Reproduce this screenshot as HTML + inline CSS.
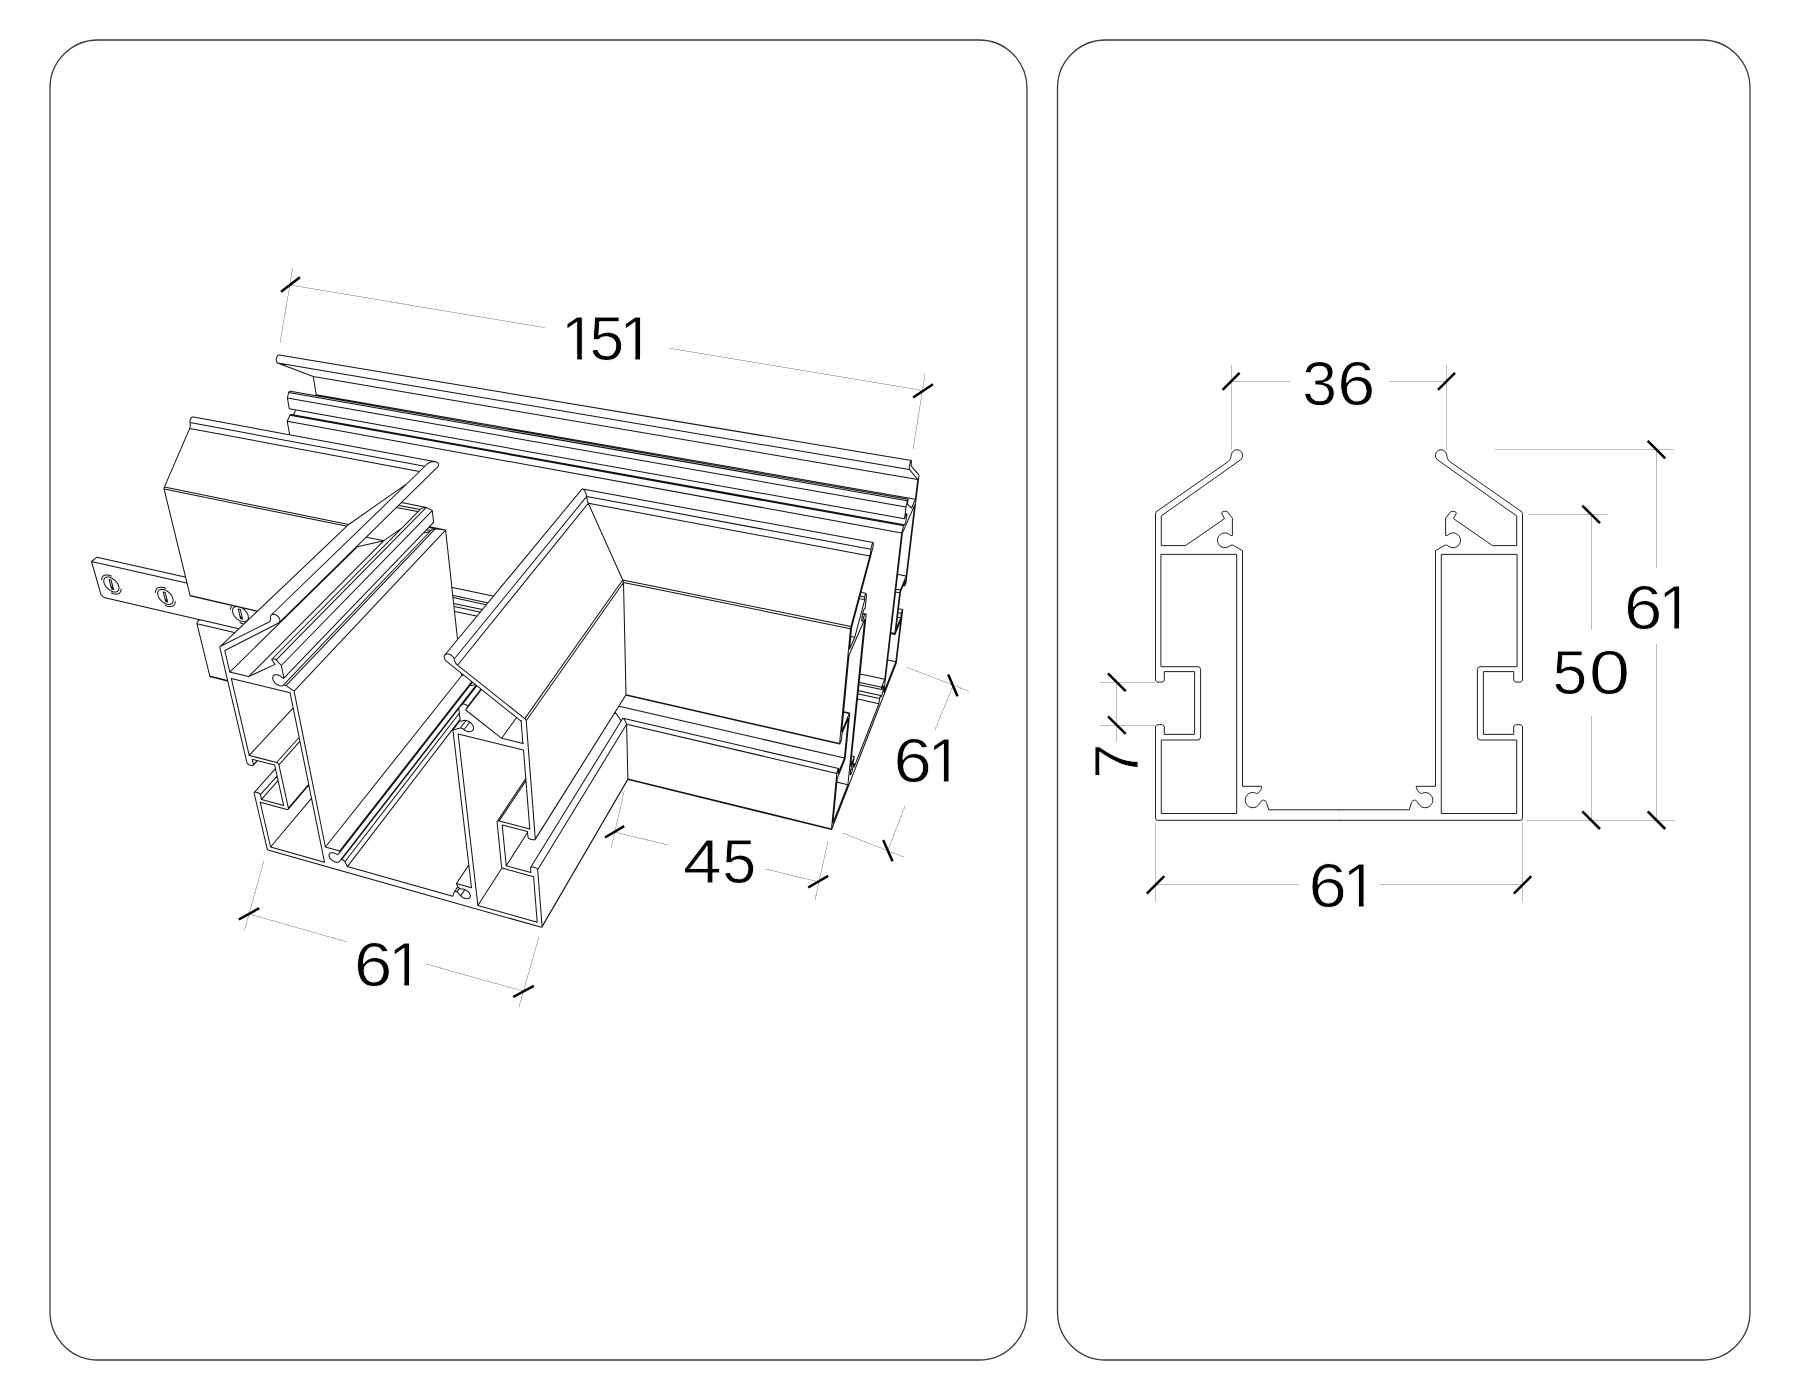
<!DOCTYPE html>
<html><head><meta charset="utf-8"><title>Profile drawing</title>
<style>
html,body{margin:0;padding:0;background:#fff;}
body{width:1800px;height:1400px;overflow:hidden;font-family:"Liberation Sans",sans-serif;}
svg{display:block;}
</style></head><body>
<svg width="1800" height="1400" viewBox="0 0 1800 1400">
<rect width="1800" height="1400" fill="#fff"/>
<g fill="none" stroke="#3a3a3a" stroke-width="1.3">
<rect x="50" y="40" width="977" height="1320" rx="48" ry="48"/>
<rect x="1057.5" y="40" width="692.5" height="1320" rx="48" ry="48"/>
</g>
<g fill="none" stroke="#1a1a1a" stroke-width="0.98" stroke-linejoin="round" stroke-linecap="round">
<g><path d="M1156.9 511.3 L1228.2 461.6 C1230.3 460 1231.3 457 1231.3 454.5 A5.7 5.7 0 1 1 1240.7 459.7 L1161.3 515.9 L1161.3 545.6 L1185.5 545.6 L1224.5 518.7 L1221.5 512.9 C1223 511.3 1225.5 510.8 1227.3 511.7 L1232.4 518.2 L1232.4 535.4 L1230.5 535.4 A7.45 7.45 0 1 0 1229.1 546.5 C1230.3 545.2 1231.8 544.8 1233.3 545.3 L1242.5 550.7 L1242.5 786.3 L1261.8 786.3 C1261.6 789.2 1260.2 792 1257.6 793.3 C1256.4 794 1255.2 792.6 1253.7 792.55 A7.6 7.6 0 1 0 1258.2 805.45 C1259.6 804.2 1260.3 801.2 1262.4 800.3 C1264.3 799.7 1265.9 800.9 1266.5 802.6 L1268.8 809.8 L1339 809.8"/><path d="M1156.9 511.3 Q1155.5 512.2 1155.5 513.6 L1155.5 680 A4.4 2.2 0 0 0 1164.3 680 L1164.3 671.6 L1194.6 671.6 L1194.6 734.4 L1164.3 734.4 L1164.3 727 A4.4 2.4 0 0 0 1155.5 727 L1155.5 818.3 Q1155.5 820.3 1157.5 820.3 L1339 820.3"/><path d="M1161.3 554.4 L1236.7 554.4 L1236.7 813.5 L1161.3 813.5 L1161.3 740 L1198 740 Q1200.6 739.6 1200.6 737 L1200.6 669.5 Q1200.6 666.9 1198 666.7 L1161.3 666.7 Z"/></g>
<g transform="translate(2678 0) scale(-1 1)"><path d="M1156.9 511.3 L1228.2 461.6 C1230.3 460 1231.3 457 1231.3 454.5 A5.7 5.7 0 1 1 1240.7 459.7 L1161.3 515.9 L1161.3 545.6 L1185.5 545.6 L1224.5 518.7 L1221.5 512.9 C1223 511.3 1225.5 510.8 1227.3 511.7 L1232.4 518.2 L1232.4 535.4 L1230.5 535.4 A7.45 7.45 0 1 0 1229.1 546.5 C1230.3 545.2 1231.8 544.8 1233.3 545.3 L1242.5 550.7 L1242.5 786.3 L1261.8 786.3 C1261.6 789.2 1260.2 792 1257.6 793.3 C1256.4 794 1255.2 792.6 1253.7 792.55 A7.6 7.6 0 1 0 1258.2 805.45 C1259.6 804.2 1260.3 801.2 1262.4 800.3 C1264.3 799.7 1265.9 800.9 1266.5 802.6 L1268.8 809.8 L1339 809.8"/><path d="M1156.9 511.3 Q1155.5 512.2 1155.5 513.6 L1155.5 680 A4.4 2.2 0 0 0 1164.3 680 L1164.3 671.6 L1194.6 671.6 L1194.6 734.4 L1164.3 734.4 L1164.3 727 A4.4 2.4 0 0 0 1155.5 727 L1155.5 818.3 Q1155.5 820.3 1157.5 820.3 L1339 820.3"/><path d="M1161.3 554.4 L1236.7 554.4 L1236.7 813.5 L1161.3 813.5 L1161.3 740 L1198 740 Q1200.6 739.6 1200.6 737 L1200.6 669.5 Q1200.6 666.9 1198 666.7 L1161.3 666.7 Z"/></g>
</g>
<g fill="none" stroke="#111" stroke-width="1.02" stroke-linecap="round"><path d="M400.5 887.5L268.8 850.2 M268.8 850.2L268 849.9 M268 849.9L267.5 849.3 M267.5 849.3L267.1 848.6 M267.1 848.6L254.1 793 M254.1 793L254.1 792.6 M254.1 792.6L254.5 792.3 M254.5 792.3L255.1 792.1 M255.1 792.1L255.9 792.2 M255.9 792.2L256.9 792.4 M256.9 792.4L257.9 792.7 M257.9 792.7L258.8 793.2 M258.8 793.2L259.6 793.7 M259.6 793.7L260.2 794.2 M260.2 794.2L260.4 794.7 M260.4 794.7L261.5 799.4 M261.5 799.4L283.6 805.4 M283.6 805.4L274.7 765.1 M274.7 765.1L252.2 759.2 M252.2 759.2L253.5 764.7 M253.5 764.7L253.4 765.1 M253.4 765.1L253 765.3 M253 765.3L252.4 765.5 M252.4 765.5L251.5 765.4 M251.5 765.4L250.6 765.2 M250.6 765.2L249.5 764.9 M249.5 764.9L248.6 764.5 M248.6 764.5L247.8 764 M247.8 764L247.2 763.4 M247.2 763.4L247 762.9 M247 762.9L219.9 647.7 M219.9 647.7L219.8 647.1 M219.8 647.1L220.1 646.6 M220.1 646.6L220.6 646.2 M347.9 525.1L348.7 524.5 M220.6 646.2L269.1 622 M348.7 524.5L407.4 483.3 M269.1 622L269.8 621.3 M269.8 621.3L270.3 620.4 M270.3 620.4L270.6 619.4 M270.6 619.4L270.6 618.2 M270.6 618.2L270.4 617 M270.4 617L270.6 615.9 M270.6 615.9L271.2 615 M271.2 615L272.1 614.4 M427.3 464L428.7 463 M272.1 614.4L273.3 614.2 M428.7 463L430.4 462.1 M273.3 614.2L274.6 614.4 M430.4 462.1L432.2 461.7 M274.6 614.4L276 615 M432.2 461.7L434 461.5 M276 615L277.3 615.9 M434 461.5L435.7 461.8 M277.3 615.9L278.5 617.1 M435.7 461.8L437 462.4 M278.5 617.1L279.3 618.4 M437 462.4L438 463.2 M279.3 618.4L279.8 619.7 M438 463.2L438.5 464.3 M279.8 619.7L279.9 621 M438.5 464.3L438.4 465.6 M279.9 621L279.6 622 M438.4 465.6L437.8 466.8 M279.6 622L279 622.8 M437.8 466.8L436.7 467.9 M279 622.8L224.8 650.5 M224.8 650.5L229.8 672.1 M357.2 546.2L357.3 546.8 M229.8 672.1L248.6 676.6 M357.3 546.8L383.9 540.7 M248.6 676.6L275 664.4 M383.9 540.7L401.1 528.7 M275 664.4L271.7 659.5 M271.7 659.5L272.4 659.1 M420.1 509.6L421.1 508.8 M272.4 659.1L273.3 658.9 M421.1 508.8L422.4 508.1 M273.3 658.9L274.2 659 M422.4 508.1L423.7 507.7 M274.2 659L275.2 659.3 M423.7 507.7L425 507.4 M275.2 659.3L276.2 659.8 M425 507.4L426.3 507.4 M276.2 659.8L281.3 665.5 M426.3 507.4L432.3 510.6 M281.3 665.5L283.9 678.2 M432.3 510.6L433.6 522.3 M283.9 678.2L282.3 677.8 M433.6 522.3L433 522.4 M282.3 677.8L280.7 676.4 M280.7 676.4L278.9 675.4 M278.9 675.4L277.1 674.8 M277.1 674.8L275.4 674.8 M275.4 674.8L274.1 675.2 M274.1 675.2L273.1 676.2 M273.1 676.2L272.7 677.5 M272.7 677.5L272.8 679.1 M272.8 679.1L273.5 680.8 M273.5 680.8L274.6 682.4 M274.6 682.4L276.1 683.9 M276.1 683.9L277.9 685 M277.9 685L279.7 685.7 M424.1 532.7L426.5 532.4 M279.7 685.7L281.4 685.9 M426.5 532.4L428.9 531.7 M281.4 685.9L282.9 685.6 M428.9 531.7L431 530.5 M282.9 685.6L283.4 685.3 M431 530.5L431.8 529.9 M283.4 685.3L284 685.1 M431.8 529.9L432.6 529.4 M284 685.1L284.6 685.1 M432.6 529.4L433.5 529 M284.6 685.1L285.3 685.2 M433.5 529L434.4 528.8 M285.3 685.2L286 685.6 M434.4 528.8L435.4 528.7 M286 685.6L294.1 691.2 M435.4 528.7L445.6 530.1 M294.1 691.2L325.4 847 M445.6 530.1L457.5 639 M461.3 673.6L461.6 675.8 M325.4 847L339.6 851 M461.6 675.8L463.3 675.3 M339.6 851L339.6 852 M339.6 852L339.4 852.8 M339.4 852.8L338.9 853.5 M338.9 853.5L338.2 854.1 M338.2 854.1L337.3 854.4 M337.3 854.4L336.8 854.3 M336.8 854.3L336.3 854.1 M336.3 854.1L335.7 853.7 M335.7 853.7L335 853.4 M335 853.4L334.4 853.1 M334.4 853.1L332.7 852.7 M332.7 852.7L331.1 852.7 M331.1 852.7L329.9 853.2 M329.9 853.2L329.2 854.1 M329.2 854.1L329 855.3 M329 855.3L329.3 856.7 M329.3 856.7L330.1 858.2 M330.1 858.2L331.4 859.6 M331.4 859.6L333 860.9 M333 860.9L334.7 861.7 M470.4 685.6L471.8 685.5 M334.7 861.7L336.4 862.2 M471.8 685.5L474.1 684.9 M336.4 862.2L338 862.2 M474.1 684.9L474.8 684.5 M338 862.2L339.2 861.8 M339.2 861.8L339.6 861.4 M339.6 861.4L340 860.8 M340 860.8L340.4 860.2 M340.4 860.2L340.9 859.8 M340.9 859.8L341.7 859.5 M341.7 859.5L342.4 859.7 M342.4 859.7L343.2 860 M343.2 860L343.9 860.5 M343.9 860.5L344.5 861.1 M344.5 861.1L344.9 861.8 M344.9 861.8L347.4 866.6 M347.4 866.6L399.5 881.2 M399.5 881.2L452.8 896.2 M452.8 896.2L454.1 892.4 M454.1 892.4L454.4 891.9 M454.4 891.9L454.8 891.6 M454.8 891.6L455.4 891.5 M455.4 891.5L456.2 891.6 M456.2 891.6L457 891.9 M457 891.9L458 892.6 M458 892.6L458.7 893.5 M458.7 893.5L459.4 894.4 M459.4 894.4L460 895.2 M460 895.2L460.7 895.9 M460.7 895.9L462.3 897.2 M462.3 897.2L464 898.1 M464 898.1L465.9 898.6 M465.9 898.6L467.6 898.7 M467.6 898.7L469 898.3 M469 898.3L469.9 897.5 M469.9 897.5L470.4 896.3 M470.4 896.3L470.2 894.9 M470.2 894.9L469.6 893.4 M469.6 893.4L468.4 891.9 M468.4 891.9L466.8 890.6 M466.8 890.6L465 889.7 M465 889.7L463.2 889.1 M463.2 889.1L462.5 889 M462.5 889L461.9 889 M461.9 889L461.4 889.1 M461.4 889.1L460.8 889 M460.8 889L460.2 888.7 M460.2 888.7L459.1 887.8 M459.1 887.8L458.1 886.8 M458.1 886.8L457.3 885.8 M457.3 885.8L456.8 884.6 M456.8 884.6L456.4 883.5 M456.4 883.5L471.5 887.7 M471.5 887.7L452.9 730 M452.9 730L460.3 728 M460.3 728L461 728 M461 728L461.8 728.2 M461.8 728.2L462.6 728.6 M462.6 728.6L463.3 729.1 M463.3 729.1L464 729.8 M464 729.8L465.8 730.9 M465.8 730.9L467.8 731.6 M467.8 731.6L469.7 731.8 M469.7 731.8L471.3 731.4 M471.3 731.4L472.6 730.6 M472.6 730.6L473.4 729.4 M473.4 729.4L473.5 727.8 M473.5 727.8L473.1 726 M473.1 726L472.1 724.3 M472.1 724.3L470.7 722.8 M470.7 722.8L468.9 721.5 M468.9 721.5L466.9 720.7 M466.9 720.7L465 720.3 M465 720.3L463.2 720.5 M463.2 720.5L461.9 721.2 M461.9 721.2L460.2 720.9 M460.2 720.9L458.8 708 M458.8 708L462.6 704.1 M462.6 704.1L463.6 704.1 M463.6 704.1L464.7 704.3 M464.7 704.3L465.8 704.8 M465.8 704.8L466.9 705.4 M466.9 705.4L467.8 706.2 M467.8 706.2L465.7 710 M465.7 710L501.7 738.3 M501.7 738.3L522.9 743.5 M522.9 743.5L521.1 721.2 M521.1 721.2L446.3 661.2 M446.3 661.2L445.2 660 M445.2 660L444.5 658.6 M444.5 658.6L444.2 657.2 M444.2 657.2L444.3 656 M444.3 656L444.8 655 M444.8 655L445.8 654.3 M582 489.1L582.5 488.9 M445.8 654.3L447 653.9 M582.5 488.9L583.1 489.1 M447 653.9L448.4 654 M583.1 489.1L583.8 489.7 M448.4 654L449.9 654.4 M583.8 489.7L584.6 490.7 M449.9 654.4L451.3 655.2 M584.6 490.7L585.3 492 M451.3 655.2L452.6 656.3 M585.3 492L585.9 493.4 M452.6 656.3L453.6 657.6 M585.9 493.4L586.4 494.9 M453.6 657.6L454.2 659 M586.4 494.9L586.7 496.4 M454.2 659L454.4 660.2 M586.7 496.4L586.8 497.6 M454.4 660.2L454.9 661.5 M586.8 497.6L587 498.9 M454.9 661.5L455.6 662.9 M587 498.9L587.3 500.4 M455.6 662.9L456.4 664.1 M587.3 500.4L587.7 501.8 M456.4 664.1L457.5 665.2 M587.7 501.8L588.3 503.2 M457.5 665.2L524.8 718.6 M588.3 503.2L622.7 580 M524.8 718.6L525.5 719.3 M622.7 580L623.1 581 M525.5 719.3L526 720 M623.1 581L623.4 581.8 M526 720L526.2 720.7 M623.4 581.8L623.5 582.5 M526.2 720.7L535.3 839.1 M623.5 582.5L626 694.8 M535.3 839.1L535.2 839.5 M626 694.8L625.9 695.1 M535.2 839.5L534.7 839.7 M534.7 839.7L533.9 839.8 M533.9 839.8L532.9 839.8 M532.9 839.8L531.8 839.5 M531.8 839.5L530.6 839.2 M530.6 839.2L529.6 838.7 M529.6 838.7L528.8 838.2 M528.8 838.2L528.2 837.6 M528.2 837.6L528 837.1 M528 837.1L527.5 831.5 M527.5 831.5L502.2 824.9 M502.2 824.9L506.2 865.8 M506.2 865.8L530.9 872.5 M615.4 712.5L621 720.6 M530.9 872.5L530.5 867.8 M530.5 867.8L530.6 867.4 M530.6 867.4L531.1 867.1 M622.8 718.3L623 718.3 M531.1 867.1L531.9 867 M623 718.3L623.5 718.6 M531.9 867L532.9 867 M623.5 718.6L624 719.1 M532.9 867L534 867.2 M624 719.1L624.6 719.9 M534 867.2L535.1 867.6 M624.6 719.9L625.2 720.9 M535.1 867.6L536.1 868.1 M625.2 720.9L625.8 721.9 M536.1 868.1L537 868.7 M625.8 721.9L626.2 722.9 M537 868.7L537.5 869.2 M626.2 722.9L626.5 723.7 M537.5 869.2L537.7 869.8 M626.5 723.7L626.6 724.3 M537.7 869.8L542.1 926.4 M626.6 724.3L627.9 778.9 M542.1 926.4L542 927 M627.9 778.9L627.8 779.4 M542 927L541.5 927.3 M541.5 927.3L540.6 927.1 M540.6 927.1L400.5 887.5 M254.1 792.6L275.2 768.9 M260.4 794.7L276.8 776.3 M261.5 799.4L277.8 780.9 M253.5 764.7L257.1 760.7 M253.4 765.1L257.5 760.6 M220.1 646.6L347.9 525.1 M220.6 646.2L348.7 524.5 M269.1 622L269.6 621.5 M271.2 615L427.3 464 M279 622.8L436.7 467.9 M229.8 672.1L357.3 546.8 M248.6 676.6L383.9 540.7 M271.7 659.5L420.1 509.6 M276.2 659.8L426.3 507.4 M281.3 665.5L432.3 510.6 M283.9 678.2L433.6 522.3 M282.9 685.6L431 530.5 M286 685.6L435.4 528.7 M294.1 691.2L445.6 530.1 M325.4 847L461.6 675.8 M339.6 851L471.7 681.8 M338.9 853.5L472.3 682.5 M339.2 861.8L475.8 685.5 M340.4 860.2L475.8 685.5 M341.7 859.5L458.5 708.6 M344.9 861.8L459.3 713.2 M347.4 866.6L460.1 719.4 M454.1 892.4L457.6 887.1 M454.4 891.9L457.9 886.7 M457 891.9L459.4 888.4 M460.7 895.9L464.5 890.1 M456.4 883.5L468.4 865.6 M452.9 730L460.1 720.5 M460.3 728L465.8 720.7 M464 729.8L469.5 722.5 M458.8 708L476.2 685.5 M462.6 704.1L476.7 686 M467.8 706.2L480.9 689.1 M465.7 710L481.3 689.6 M501.7 738.3L516.4 717.7 M522.9 743.5L523.3 742.9 M521.1 721.2L521.5 720.6 M444.8 655L582 489.1 M454.2 659L586.7 496.4 M457.5 665.2L588.3 503.2 M524.8 718.6L622.7 580 M526.2 720.7L623.5 582.5 M535.3 839.1L626 694.8 M535.2 839.5L625.9 695.1 M506.2 865.8L527.5 832.5 M530.6 867.4L622.8 718.3 M537.7 869.8L626.6 724.3 M542.1 926.4L627.9 778.9 M542 927L627.8 779.4 M231.3 678.4L290.1 692.8 M290.1 692.8L324.5 862.2 M324.5 862.2L270.6 847 M270.6 847L260.2 802.3 M260.2 802.3L286.9 809.6 M286.9 809.6L287.9 809.5 M287.9 809.5L288.4 809.1 M288.4 809.1L288.4 808.2 M288.4 808.2L278.9 764.9 M278.9 764.9L278.5 763.9 M278.5 763.9L277.7 763.1 M277.7 763.1L276.6 762.5 M276.6 762.5L249.2 755.4 M249.2 755.4L231.3 678.4 M270.6 847L311.4 798.4 M288.4 809.1L308.4 785.5 M288.4 808.2L308.5 784.6 M278.9 764.9L299.6 741.7 M276.6 762.5L299 737.5 M249.2 755.4L293 708.1 M529.8 828.9L499.1 820.9 M499.1 820.9L497.9 820.8 M497.9 820.8L497.3 821.2 M497.3 821.2L497.1 822.2 M497.1 822.2L501.5 866.2 M501.5 866.2L501.8 867.2 M501.8 867.2L502.6 868 M502.6 868L503.8 868.6 M503.8 868.6L533.6 876.8 M533.6 876.8L537.2 922.2 M537.2 922.2L477.9 905.5 M477.9 905.5L458.1 734 M458.1 734L523.5 750 M523.5 750L529.8 828.9 M499.1 820.9L525.6 781.2 M497.3 821.2L525.6 778.9 M477.9 905.5L502.1 867.8 M866.2 740.5L895.9 664.1 M895.9 664.1L896.1 663.5 M896.1 663.5L896.3 662.9 M896.3 662.9L896.4 662.2 M896.4 662.2L902.7 610 M902.7 610L902.7 609.6 M902.7 609.6L902.7 609.5 M902.7 609.5L902.5 609.5 M902.5 609.5L902.4 609.8 M902.4 609.8L902.2 610.2 M902.2 610.2L902 610.8 M902 610.8L901.8 611.5 M901.8 611.5L901.6 612.2 M901.6 612.2L901.4 612.8 M901.4 612.8L901.3 613.3 M901.3 613.3L900.8 617.7 M900.8 617.7L896 629.5 M896 629.5L900.5 591.8 M900.5 591.8L905.3 580.2 M905.3 580.2L904.7 585.3 M904.7 585.3L904.7 585.6 M904.7 585.6L904.8 585.7 M904.8 585.7L904.9 585.7 M904.9 585.7L905 585.4 M905 585.4L905.2 584.9 M905.2 584.9L905.5 584.4 M905.5 584.4L905.7 583.7 M905.7 583.7L905.9 583 M905.9 583L906 582.4 M906 582.4L906.1 581.9 M906.1 581.9L918.9 475.9 M918.9 475.9L919 475.3 M919 475.3L919 475 M919 475L918.9 474.8 M918.9 474.8L911.3 466.2 M911.3 466.2L911.2 465.8 M911.2 465.8L911.2 465.2 M911.2 465.2L911.2 464.3 M911.2 464.3L911.2 463.3 M911.2 463.3L911.4 462.3 M911.4 462.3L911.4 461.3 M911.4 461.3L911.4 460.7 M911.4 460.7L911.2 460.4 M279.1 355.1L278.4 355.1 M911.2 460.4L911 460.6 M278.4 355.1L277.8 355.5 M911 460.6L910.7 461.1 M277.8 355.5L277.1 356.2 M910.7 461.1L910.4 461.9 M277.1 356.2L276.7 357.2 M910.4 461.9L910.1 463 M276.7 357.2L276.4 358.3 M910.1 463L909.8 464.3 M276.4 358.3L276.2 359.4 M909.8 464.3L909.6 465.7 M276.2 359.4L276.3 360.6 M909.6 465.7L909.4 467 M276.3 360.6L276.6 361.6 M909.4 467L909.3 468.1 M276.6 361.6L277 362.5 M909.3 468.1L909.2 468.9 M277 362.5L277.6 363 M909.2 468.9L909.3 469.4 M277.6 363L313.3 376.5 M909.3 469.4L917.8 479.5 M313.3 376.5L316.2 394.8 M917.8 479.5L915.4 499.2 M316.2 394.8L315.3 395.5 M915.4 499.2L911.6 508 M911.6 508L907.3 504.4 M907.3 504.4L908.2 499.4 M908.2 499.4L908.1 499.2 M290.4 391.3L289.9 391.3 M908.1 499.2L908 499.2 M289.9 391.3L289.4 391.5 M908 499.2L907.8 499.5 M289.4 391.5L289 391.9 M907.8 499.5L907.6 500 M289 391.9L288.6 392.5 M907.6 500L907.4 500.7 M288.6 392.5L287.4 398 M907.4 500.7L906 507.1 M287.4 398L289.3 408.8 M906 507.1L904.6 518.8 M904.6 518.8L905 518 M905 518L905.4 516.4 M905.4 516.4L905.8 515 M905.8 515L906.2 514 M906.2 514L906.5 513.5 M906.5 513.5L906.7 513.6 M906.7 513.6L906.9 514.1 M906.9 514.1L906.9 515.1 M906.9 515.1L906.7 516.5 M906.7 516.5L906.5 518.2 M295.4 409.9L295.3 410.7 M906.5 518.2L906.1 519.9 M295.3 410.7L294.9 412.1 M906.1 519.9L905.8 521.6 M294.9 412.1L294.3 413.3 M905.8 521.6L905.3 523.1 M294.3 413.3L293.5 414.2 M905.3 523.1L904.9 524.2 M293.5 414.2L292.6 414.7 M904.9 524.2L904.6 524.8 M904.6 524.8L904.3 525 M904.3 525L904.2 524.8 M291.4 414.5L291 414.4 M904.2 524.8L904.1 524.8 M291 414.4L290.7 414.6 M904.1 524.8L904 525 M290.7 414.6L290.4 414.8 M904 525L903.9 525.3 M290.4 414.8L290 415.2 M903.9 525.3L903.7 525.8 M290 415.2L287.2 421.2 M903.7 525.8L901.7 532.9 M287.2 421.2L289.6 434.4 M901.7 532.9L884.8 679.2 M884.8 679.2L881.6 687.2 M881.6 687.2L881.5 688.1 M881.5 688.1L881.5 688.8 M881.5 688.8L881.5 689.3 M881.5 689.3L881.6 689.6 M881.6 689.6L881.8 689.5 M881.8 689.5L881.9 689.3 M881.9 689.3L882.1 688.9 M882.1 688.9L882.2 688.4 M882.2 688.4L882.4 687.9 M882.4 687.9L882.5 687.4 M882.5 687.4L882.9 686.5 M882.9 686.5L883.2 686 M883.2 686L883.4 686.1 M883.4 686.1L883.5 686.6 M883.5 686.6L883.5 687.7 M883.5 687.7L883.3 689 M883.3 689L883 690.6 M883 690.6L882.7 692.3 M882.7 692.3L882.3 693.9 M882.3 693.9L881.9 695.2 M881.9 695.2L881.5 696.2 M881.5 696.2L881.1 696.7 M881.1 696.7L880.9 696.7 M880.9 696.7L880.9 696.5 M880.9 696.5L880.8 696.1 M880.8 696.1L880.8 695.8 M880.8 695.8L880.7 695.5 M880.7 695.5L880.6 695.6 M880.6 695.6L880.4 695.9 M880.4 695.9L880.2 696.5 M880.2 696.5L880 697.1 M880 697.1L879.9 697.9 M879.9 697.9L879.7 698.6 M879.7 698.6L878.9 703.7 M878.9 703.7L866.9 734.5 M898.7 608.7L902.7 609.5 M898.7 612.8L901.3 613.3 M898.1 617.2L900.8 617.7 M903.4 585L904.7 585.3 M903.4 585.5L904.8 585.7 M279.1 355.1L911.2 460.4 M277.6 363L909.3 469.4 M313.3 376.5L917.8 479.5 M316.2 394.8L915.4 499.2 M290.4 391.3L908.1 499.2 M288.6 392.5L907.4 500.7 M287.4 398L906 507.1 M289.3 408.8L904.6 518.8 M291.4 414.5L904.2 524.8 M290 415.2L903.7 525.8 M287.2 421.2L901.7 532.9 M452.3 587.4L493 596 M860.3 674L884.8 679.2 M453.3 595.5L487.3 602.8 M859.7 682.6L881.6 687.2 M453.1 597.6L486.1 604.7 M859.1 684.7L881.6 689.6 M453.7 603.4L482.1 609.5 M858.9 690.8L880.7 695.5 M453.9 603.5L482.3 609.6 M858.7 690.8L880.6 695.6 M454.2 606.5L479.9 612 M858.5 694L879.7 698.6 M454.7 611.4L476.4 616.1 M857.7 699.1L878.9 703.7 M906.2 576L900.4 590.1 M900.4 590.1L900.1 590.9 M900.1 590.9L899.9 591.8 M899.9 591.8L899.7 592.8 M899.7 592.8L894.9 633.4 M894.9 633.4L894.9 634.2 M894.9 634.2L894.9 634.4 M894.9 634.4L895.1 634.2 M895.1 634.2L900.9 619.8 M900.9 619.8L895.8 661.8 M895.8 661.8L883.9 692.3 M883.9 692.3L902.4 533.1 M902.4 533.1L914.7 505 M914.7 505L906.2 576 M898.2 574.5L906.2 576 M896.3 589.3L900.4 590.1 M895.7 592L899.7 592.8 M890.9 632.6L894.9 633.4 M890.9 633.6L894.9 634.4 M887.9 660.1L895.8 661.8 M210.4 676.8L210 676.7 M210 676.7L209.8 676.1 M209.8 676.1L197 623.8 M197 623.8L197 623.2 M197 623.2L197.2 622.6 M197.2 622.6L197.5 621.9 M197.5 621.9L198 621.2 M198 621.2L198.5 620.6 M198.5 620.6L199.1 620.2 M199.1 620.2L199.7 619.9 M199.7 619.9L200.2 619.8 M190.7 596.1L190.3 596 M190.3 596L190.1 595.6 M190.1 595.6L164.1 489.1 M164.1 489.1L164 488.5 M164 488.5L164.1 487.8 M164.1 487.8L164.4 487.1 M347.9 525.1L348.7 524.5 M164.4 487.1L189.7 428.4 M348.7 524.5L407.4 483.3 M189.7 428.4L190 427.3 M190 427.3L190.2 426.1 M190.2 426.1L190.3 424.8 M190.3 424.8L190.2 423.6 M190.2 423.6L190 422.5 M190 422.5L190 421.2 M190 421.2L190.2 420 M190.2 420L190.7 418.8 M427.3 464L428.7 463 M190.7 418.8L191.3 417.9 M428.7 463L430.4 462.1 M191.3 417.9L192 417.3 M430.4 462.1L432.2 461.7 M192 417.3L192.8 417 M432.2 461.7L434 461.5 M192.8 417L193.6 417 M434 461.5L435.7 461.8 M435.7 461.8L437 462.4 M437 462.4L438 463.2 M438 463.2L438.5 464.3 M438.5 464.3L438.4 465.6 M438.4 465.6L437.8 466.8 M437.8 466.8L436.7 467.9 M357.2 546.2L357.3 546.8 M357.3 546.8L383.9 540.7 M383.9 540.7L401.1 528.7 M420.1 509.6L421.1 508.8 M421.1 508.8L422.4 508.1 M422.4 508.1L423.7 507.7 M423.7 507.7L425 507.4 M425 507.4L426.3 507.4 M426.3 507.4L432.3 510.6 M432.3 510.6L433.6 522.3 M433.6 522.3L433 522.4 M424.1 532.7L426.5 532.4 M426.5 532.4L428.9 531.7 M428.9 531.7L431 530.5 M431 530.5L431.8 529.9 M431.8 529.9L432.6 529.4 M432.6 529.4L433.5 529 M433.5 529L434.4 528.8 M434.4 528.8L435.4 528.7 M435.4 528.7L445.6 530.1 M445.6 530.1L457.5 639 M461.3 673.6L461.6 675.8 M461.6 675.8L463.3 675.3 M470.4 685.6L471.8 685.5 M471.8 685.5L474.1 684.9 M474.1 684.9L474.8 684.5 M210.4 676.8L227.3 680.9 M209.8 676.1L227.3 680.5 M197 623.8L234.4 632.5 M200.2 619.8L238.7 628.8 M190.7 596.1L256.9 611.2 M190.1 595.6L256.9 610.9 M164.1 489.1L346.1 526.1 M164.4 487.1L348.7 524.5 M189.7 428.4L419.4 471.5 M190 422.5L424.7 466.2 M193.6 417L435.7 461.8 M366.7 537.2L383.9 540.7 M396.6 507.5L417.6 511.6 M399.1 505.5L420.1 509.6 M401.6 502.6L426.3 507.4 M431.7 510.5L432.3 510.6 M426.6 529.7L431 530.5 M429.2 527.5L435.4 528.7 M429.4 526.8L445.6 530.1 M866.2 740.5L831.8 829 M831.8 829L831.6 829.5 M831.6 829.5L831.5 829.4 M627.8 779.4L627.9 778.9 M831.5 829.4L831.5 828.9 M627.9 778.9L626.6 724.3 M831.5 828.9L836.8 773.4 M626.6 724.3L626.5 723.7 M836.8 773.4L836.9 772.8 M626.5 723.7L626.2 722.9 M836.9 772.8L837 772.1 M626.2 722.9L625.8 721.9 M837 772.1L837.3 771.3 M625.8 721.9L625.2 720.9 M837.3 771.3L837.5 770.4 M625.2 720.9L624.6 719.9 M837.5 770.4L837.8 769.6 M624.6 719.9L624 719.1 M837.8 769.6L838.1 769 M624 719.1L623.5 718.6 M838.1 769L838.3 768.6 M623.5 718.6L623 718.3 M838.3 768.6L838.5 768.4 M623 718.3L622.8 718.3 M838.5 768.4L838.6 768.5 M838.6 768.5L838.6 768.9 M838.6 768.9L838.1 773.5 M621 720.6L615.4 712.5 M838.1 773.5L844.4 758.1 M844.4 758.1L848.3 718.3 M848.3 718.3L842 733.5 M842 733.5L841.5 739 M841.5 739L841.4 739.5 M841.4 739.5L841.2 740.2 M841.2 740.2L841 741 M841 741L840.7 741.9 M840.7 741.9L840.4 742.6 M840.4 742.6L840.1 743.2 M840.1 743.2L839.9 743.7 M839.9 743.7L839.7 743.9 M839.7 743.9L839.6 743.8 M625.9 695.1L626 694.8 M839.6 743.8L839.6 743.5 M626 694.8L623.5 582.5 M839.6 743.5L850.5 628.7 M623.5 582.5L623.4 581.8 M850.5 628.7L850.6 628 M623.4 581.8L623.1 581 M850.6 628L850.8 627.2 M623.1 581L622.7 580 M850.8 627.2L851 626.4 M622.7 580L588.3 503.2 M851 626.4L869.8 556.1 M588.3 503.2L587.7 501.8 M869.8 556.1L870.1 554.7 M587.7 501.8L587.3 500.4 M870.1 554.7L870.4 553.3 M587.3 500.4L587 498.9 M870.4 553.3L870.6 551.9 M587 498.9L586.8 497.6 M870.6 551.9L870.9 550.6 M586.8 497.6L586.7 496.4 M870.9 550.6L871 549.3 M586.7 496.4L586.4 494.9 M871 549.3L871.2 547.9 M586.4 494.9L585.9 493.4 M871.2 547.9L871.5 546.5 M585.9 493.4L585.3 492 M871.5 546.5L871.9 545.1 M585.3 492L584.6 490.7 M871.9 545.1L872.2 543.9 M584.6 490.7L583.8 489.7 M872.2 543.9L872.6 543.1 M583.8 489.7L583.1 489.1 M872.6 543.1L872.9 542.6 M583.1 489.1L582.5 488.9 M872.9 542.6L873.1 542.6 M582.5 488.9L582 489.1 M873.1 542.6L873.3 543 M873.3 543L873.3 543.8 M873.3 543.8L873.3 544.9 M873.3 544.9L873.1 546.2 M873.1 546.2L872.9 547.6 M872.9 547.6L872.5 549.1 M872.5 549.1L851.6 627.6 M851.6 627.6L849.6 649 M849.6 649L854.8 637.2 M854.8 637.2L864.8 599.6 M864.8 599.6L864.6 596.9 M864.6 596.9L864.9 595.8 M864.9 595.8L865.2 594.9 M865.2 594.9L865.4 594.1 M865.4 594.1L865.7 593.6 M865.7 593.6L865.9 593.3 M865.9 593.3L866.5 595.7 M866.5 595.7L865.2 607.9 M865.2 607.9L864.8 608.8 M864.8 608.8L864.6 608.6 M864.6 608.6L864.2 608.9 M864.2 608.9L863.8 609.9 M863.8 609.9L863.3 611.2 M863.3 611.2L862.8 613 M862.8 613L862.4 614.9 M862.4 614.9L862 616.8 M862 616.8L861.8 618.5 M861.8 618.5L861.7 619.9 M861.7 619.9L861.8 620.8 M861.8 620.8L862 621.2 M862 621.2L862.4 621 M862.4 621L862.8 620.2 M862.8 620.2L863.3 618.9 M863.3 618.9L863.8 617.3 M863.8 617.3L864 616.5 M864 616.5L864.1 615.8 M864.1 615.8L864.3 615.2 M864.3 615.2L864.5 614.8 M864.5 614.8L864.7 614.5 M864.7 614.5L866.2 614.1 M866.2 614.1L850.6 765.9 M850.6 765.9L854.3 756.6 M854.3 756.6L854.1 757.8 M854.1 757.8L853.9 759 M853.9 759L853.7 760.2 M853.7 760.2L853.4 761.5 M853.4 761.5L853 762.8 M853 762.8L852.9 763.2 M852.9 763.2L852.8 763.5 M852.8 763.5L852.6 763.7 M852.6 763.7L852.5 763.9 M852.5 763.9L852.4 764.2 M852.4 764.2L851.9 765.4 M851.9 765.4L851.4 766.9 M851.4 766.9L851 768.7 M851 768.7L850.6 770.5 M850.6 770.5L850.4 772.1 M850.4 772.1L850.2 773.5 M850.2 773.5L850.2 774.4 M850.2 774.4L850.4 774.8 M850.4 774.8L850.7 774.7 M850.7 774.7L851.1 774 M851.1 774L851.5 772.9 M851.5 772.9L852 771.4 M852 771.4L852.4 769.6 M852.4 769.6L852.6 768.7 M852.6 768.7L852.8 767.7 M852.8 767.7L853 766.6 M853 766.6L853.3 765.6 M853.3 765.6L853.5 764.6 M853.5 764.6L853.7 764 M853.7 764L853.9 763.6 M853.9 763.6L854 763.5 M854 763.5L854.1 763.6 M854.1 763.6L854.1 764 M854.1 764L854.1 767.1 M854.1 767.1L866.9 734.5 M628.1 779.4L831.6 829.5 M627.9 778.9L831.5 828.9 M626.6 724.3L836.8 773.4 M623 718.3L838.5 768.4 M619 706.2L844.4 758.1 M626.2 695.2L839.7 743.9 M626 694.8L839.6 743.5 M623.5 582.5L850.5 628.7 M622.7 580L851 626.4 M588.3 503.2L869.8 556.1 M586.7 496.4L871 549.3 M582.5 488.9L873.1 542.6 M851 636.5L854.8 637.2 M859.8 598.7L864.8 599.6 M860.2 596L864.6 596.9 M861.5 592.5L865.9 593.3 M862.5 617L863.8 617.3 M862.8 614.1L864.7 614.5 M863 613.5L866.2 614.1 M851.8 756L854.3 756.6 M851.2 769.3L852.4 769.6 M852.9 764.4L853.5 764.6 M853.4 763.4L854 763.5 M849 655.3L864.7 619.3 M864.7 619.3L847.9 784.8 M847.9 784.8L832.9 823 M832.9 823L837.2 778.5 M837.2 778.5L844.7 759.9 M844.7 759.9L845 758.8 M845 758.8L845.2 757.8 M845.2 757.8L845.4 756.7 M845.4 756.7L849.6 714 M849.6 714L849.7 713.2 M849.7 713.2L849.5 713 M849.5 713L849.3 713.4 M849.3 713.4L841.7 731.8 M841.7 731.8L849 655.3 M837.4 782.3L847.9 784.8 M844 711.8L849.5 713 M843.7 712.2L849.3 713.4 M91.5 561.5L186.5 582.9 M97 557.2L185 576.9 M199.7 619.8L104 597.5 M104 597.5L101 594.7 M101 594.7L91.5 561.5 M91.5 561.5L97 557.2 M118.7 586.2L119 587.8 M119 587.8L118.9 589.2 M118.9 589.2L118.4 590.4 M118.4 590.4L117.5 591.3 M117.5 591.3L116.4 591.9 M116.4 591.9L115 592.1 M115 592.1L113.4 591.9 M113.4 591.9L111.8 591.3 M111.8 591.3L110.1 590.4 M110.1 590.4L108.4 589.2 M108.4 589.2L107 587.8 M107 587.8L105.7 586.2 M105.7 586.2L104.7 584.5 M104.7 584.5L104 582.9 M104 582.9L103.8 581.3 M103.8 581.3L103.9 579.8 M103.9 579.8L104.3 578.6 M104.3 578.6L105.2 577.7 M105.2 577.7L106.3 577.2 M106.3 577.2L107.7 577 M107.7 577L109.3 577.1 M109.3 577.1L111 577.7 M111 577.7L112.7 578.6 M112.7 578.6L114.3 579.8 M114.3 579.8L115.8 581.2 M115.8 581.2L117.1 582.9 M117.1 582.9L118.1 584.5 M118.1 584.5L118.7 586.2 M101.6 580L101.8 578.5 M101.8 578.5L102.3 577.1 M102.3 577.1L103.2 576 M103.2 576L104.3 575.3 M104.3 575.3L105.8 574.9 M105.8 574.9L107.5 574.9 M107.5 574.9L109.3 575.2 M109.3 575.2L111.2 576 M121.1 589.1L121 590.6 M121 590.6L120.4 592 M120.4 592L119.5 593 M119.5 593L118.3 593.8 M118.3 593.8L116.9 594.1 M116.9 594.1L115.2 594.1 M115.2 594.1L113.4 593.8 M113.4 593.8L111.5 593 M109.1 579.6L111 580 M111 580L113.6 589.5 M113.6 589.5L111.8 589 M111.8 589L109.1 579.6 M110.9 586.1L113.6 589.5 M172.9 598.7L173.2 600.3 M173.2 600.3L173 601.7 M173 601.7L172.5 602.9 M172.5 602.9L171.6 603.8 M171.6 603.8L170.4 604.3 M170.4 604.3L168.9 604.5 M168.9 604.5L167.3 604.3 M167.3 604.3L165.6 603.8 M165.6 603.8L163.9 602.8 M163.9 602.8L162.2 601.6 M162.2 601.6L160.7 600.2 M160.7 600.2L159.5 598.6 M159.5 598.6L158.5 596.9 M158.5 596.9L157.9 595.2 M157.9 595.2L157.7 593.6 M157.7 593.6L157.8 592.2 M157.8 592.2L158.3 591 M158.3 591L159.2 590 M159.2 590L160.4 589.5 M160.4 589.5L161.9 589.3 M161.9 589.3L163.5 589.5 M163.5 589.5L165.2 590.1 M165.2 590.1L167 591 M167 591L168.6 592.2 M168.6 592.2L170.1 593.6 M170.1 593.6L171.4 595.3 M171.4 595.3L172.3 597 M172.3 597L172.9 598.7 M155.5 592.4L155.7 590.8 M155.7 590.8L156.3 589.4 M156.3 589.4L157.2 588.3 M157.2 588.3L158.5 587.6 M158.5 587.6L160 587.2 M160 587.2L161.7 587.2 M161.7 587.2L163.6 587.6 M163.6 587.6L165.5 588.3 M175.3 601.5L175.1 603.1 M175.1 603.1L174.5 604.5 M174.5 604.5L173.6 605.5 M173.6 605.5L172.3 606.2 M172.3 606.2L170.8 606.6 M170.8 606.6L169.1 606.6 M169.1 606.6L167.2 606.2 M167.2 606.2L165.3 605.5 M163.2 592L165.2 592.4 M165.2 592.4L167.6 601.9 M167.6 601.9L165.7 601.4 M165.7 601.4L163.2 592 M164.9 598.5L167.6 601.9 M248.2 615.9L248.4 617.5 M248.4 617.5L248.2 619 M248.2 619L247.6 620.2 M247.6 620.2L246.6 621.1 M246.6 621.1L245.3 621.6 M245.3 621.6L243.8 621.8 M243.8 621.8L242.1 621.6 M242.1 621.6L240.3 621 M240.3 621L238.6 620.1 M238.6 620.1L236.9 618.9 M236.9 618.9L235.4 617.4 M235.4 617.4L234.2 615.8 M234.2 615.8L233.2 614.1 M233.2 614.1L232.7 612.4 M232.7 612.4L232.5 610.7 M232.5 610.7L232.7 609.3 M232.7 609.3L233.3 608.1 M233.3 608.1L234.3 607.2 M234.3 607.2L235.6 606.6 M235.6 606.6L236.3 606.5 M241.8 607.8L242.3 608.1 M242.3 608.1L244 609.4 M244 609.4L245.5 610.9 M245.5 610.9L246.8 612.5 M246.8 612.5L247.7 614.2 M247.7 614.2L248.2 615.9 M230.3 609.5L230.6 607.9 M230.6 607.9L231.2 606.5 M231.2 606.5L231.7 605.9 M243.8 623.9L241.9 623.5 M241.9 623.5L239.9 622.7 M238.4 609.1L240.4 609.6 M240.4 609.6L242.5 619.1 M242.5 619.1L240.5 618.7 M240.5 618.7L238.4 609.1 M239.8 615.7L242.5 619.1"/></g>
<g fill="none" stroke="#bdbdbd" stroke-width="1" shape-rendering="crispEdges">
<path d="M1231.25 365 L1231.25 450 M1446.6 365 L1446.6 450 M1231.25 381.3 L1289.5 381.3 M1388.7 381.3 L1446.6 381.3 M1495 449.3 L1673.7 449.3 M1656.5 449.3 L1656.5 568 M1656.5 643.5 L1656.5 820.1 M1527.5 514.3 L1608 514.3 M1591.3 514.3 L1591.3 629.5 M1591.3 716.3 L1591.3 820.1 M1526.3 820.1 L1673.7 820.1 M1155.6 823 L1155.6 902 M1522.5 823 L1522.5 902 M1155.6 884.3 L1297.5 884.3 M1380 884.3 L1522.5 884.3 M1100 682.5 L1155 682.5 M1100 725.4 L1155 725.4 M1116.8 682.5 L1116.8 741.8 M292.7 267.7L280.0 343.3 M925.0 374.5L913.2 448.8 M290.0 285.0L545.0 327.7 M669.5 348.2L922.5 390.5 M907.5 667.5L968.8 691.2 M842.5 833.0L903.8 857.0 M953.0 686.2L935.0 729.5 M905.0 806.2L888.0 850.0 M624.2 791.2L611.2 848.0 M828.2 840.5L815.0 900.0 M614.5 832.0L668.2 845.0 M764.5 868.8L818.2 881.8 M263.8 861.2L244.5 930.0 M538.8 937.5L518.8 1007.5 M249.0 914.0L346.8 941.8 M425.5 963.8L523.5 991.2"/>
</g>
<g fill="none" stroke="#000" stroke-width="2.5">
<path d="M1222.6 389.9 L1239.6 372.9 M1438 389.9 L1455 372.9 M1647.7 440.8 L1665.2 458.3 M1582.3 505.6 L1600 523.2 M1582.3 811.4 L1600 829 M1647.7 811.4 L1665.2 829 M1146.8 893.7 L1164.3 876.2 M1513.8 893.7 L1531.3 876.2 M1108 673.4 L1125.7 691.2 M1108 716.3 L1125.7 733.9 M281.0 291.7L300.0 277.3 M913.2 397.5L933.0 384.2 M948.2 674.5L957.5 696.2 M883.2 840.0L892.5 861.2 M605.0 837.5L624.2 826.2 M808.2 887.5L828.2 875.8 M238.8 919.5L259.2 908.2 M513.2 997.0L533.8 985.8"/>
</g>
<g font-family="'Liberation Sans', sans-serif" font-size="62.6" fill="#000" stroke="#fff" stroke-width="0.8">
<text y="359.60"><tspan x="561.08">1</tspan><tspan x="589.41" textLength="34.69" lengthAdjust="spacingAndGlyphs">5</tspan><tspan x="619.18">1</tspan></text>
<text y="405.00"><tspan x="1302.23" textLength="34.74" lengthAdjust="spacingAndGlyphs">3</tspan><tspan x="1337.36" textLength="38.02" lengthAdjust="spacingAndGlyphs">6</tspan></text>
<text y="882.50"><tspan x="683.00" textLength="38.70" lengthAdjust="spacingAndGlyphs">4</tspan><tspan x="722.16" textLength="33.86" lengthAdjust="spacingAndGlyphs">5</tspan></text>
<text y="782.40"><tspan x="893.59" textLength="38.33" lengthAdjust="spacingAndGlyphs">6</tspan><tspan x="927.78">1</tspan></text>
<text y="985.50"><tspan x="353.99" textLength="38.33" lengthAdjust="spacingAndGlyphs">6</tspan><tspan x="388.18">1</tspan></text>
<text y="629.10"><tspan x="1623.99" textLength="38.33" lengthAdjust="spacingAndGlyphs">6</tspan><tspan x="1658.18">1</tspan></text>
<text y="694.40"><tspan x="1552.41" textLength="34.69" lengthAdjust="spacingAndGlyphs">5</tspan><tspan x="1588.92" textLength="41.04" lengthAdjust="spacingAndGlyphs">0</tspan></text>
<text y="906.90"><tspan x="1308.59" textLength="38.33" lengthAdjust="spacingAndGlyphs">6</tspan><tspan x="1342.78">1</tspan></text>
<text x="1137.7" y="778.6" transform="rotate(-90 1137.7 778.6)">7</text>
</g>
<rect x="564.58" y="354.10" width="12.61" height="6.2" fill="#fff"/>
<rect x="581.90" y="354.10" width="12.20" height="6.2" fill="#fff"/>
<rect x="622.68" y="354.10" width="12.61" height="6.2" fill="#fff"/>
<rect x="640.00" y="354.10" width="12.20" height="6.2" fill="#fff"/>
<rect x="931.28" y="776.90" width="12.61" height="6.2" fill="#fff"/>
<rect x="948.60" y="776.90" width="12.20" height="6.2" fill="#fff"/>
<rect x="391.68" y="980.00" width="12.61" height="6.2" fill="#fff"/>
<rect x="409.00" y="980.00" width="12.20" height="6.2" fill="#fff"/>
<rect x="1661.68" y="623.60" width="12.61" height="6.2" fill="#fff"/>
<rect x="1679.00" y="623.60" width="12.20" height="6.2" fill="#fff"/>
<rect x="1346.28" y="901.40" width="12.61" height="6.2" fill="#fff"/>
<rect x="1363.60" y="901.40" width="12.20" height="6.2" fill="#fff"/>
</svg>
</body></html>
